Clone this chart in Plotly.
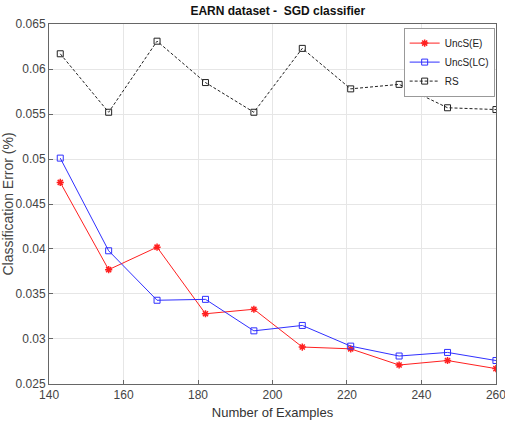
import plotly.graph_objects as go

examples = [143, 156, 169, 182, 195, 208, 221, 234, 247, 260]
uncs_e = [0.0474, 0.0377, 0.0402, 0.0328, 0.0333, 0.0291, 0.0289, 0.0271, 0.0276, 0.0267]
uncs_lc = [0.0501, 0.0398, 0.0343, 0.0344, 0.0309, 0.0315, 0.0292, 0.0281, 0.0285, 0.0276]
rs = [0.0617, 0.0552, 0.0631, 0.0585, 0.0552, 0.0623, 0.0578, 0.0583, 0.0557, 0.0555]
x_ticks = [140, 160, 180, 200, 220, 240, 260]
y_ticks = [0.025, 0.03, 0.035, 0.04, 0.045, 0.05, 0.055, 0.06, 0.065]
y_tick_labels = ["0.025", "0.03", "0.035", "0.04", "0.045", "0.05", "0.055", "0.06", "0.065"]

fig = go.Figure()
fig.add_trace(go.Scatter(x=examples, y=uncs_e, name="UncS(E)", mode="lines+markers",
                         line=dict(color="#ff2020", width=1),
                         marker=dict(symbol="asterisk-open", size=6, color="#ff2020", line=dict(width=1.5, color="#ff2020"))))
fig.add_trace(go.Scatter(x=examples, y=uncs_lc, name="UncS(LC)", mode="lines+markers",
                         line=dict(color="#3030ff", width=1),
                         marker=dict(symbol="square-open", size=6, color="#3030ff", line=dict(width=1, color="#3030ff"))))
fig.add_trace(go.Scatter(x=examples, y=rs, name="RS", mode="lines+markers",
                         line=dict(color="#222222", width=1, dash="3px,2px"),
                         marker=dict(symbol="square-open", size=6, color="#222222", line=dict(width=1, color="#222222"))))

axis_common = dict(showgrid=True, gridcolor="#e6e6e6", gridwidth=1, showline=True, linecolor="#666666",
                   linewidth=1, mirror=True, ticks="inside", ticklen=4, tickcolor="#666666",
                   zeroline=False, tickfont=dict(size=12, color="#444444"), ticklabeloverflow="allow")

fig.update_layout(
    width=505, height=428,
    margin=dict(l=49, r=9, t=24, b=44, autoexpand=False),
    paper_bgcolor="white", plot_bgcolor="white",
    font=dict(family="Liberation Sans, Arial", size=12, color="#222222"),
    title=dict(text="<b>EARN dataset -  SGD classifier</b>", x=0.55, xanchor="center", y=0.975, yanchor="middle",
               font=dict(size=12, color="#111111")),
    xaxis=dict(range=[139.98, 260.02], tickmode="array", tickvals=x_ticks,
               title=dict(text="Number of Examples", standoff=6, font=dict(size=13, color="#333333")), **axis_common),
    yaxis=dict(range=[0.02499, 0.06501], tickmode="array", tickvals=y_ticks, ticktext=y_tick_labels,
               title=dict(text="Classification Error (%)", standoff=4, font=dict(size=14, color="#444444")),
               **axis_common),
    legend=dict(x=0.997, y=0.99, xanchor="right", yanchor="top", bgcolor="white",
                bordercolor="#999999", borderwidth=1, font=dict(size=10),
                itemwidth=30, tracegroupgap=0),
    showlegend=True,
)

fig.write_html("out.html")
